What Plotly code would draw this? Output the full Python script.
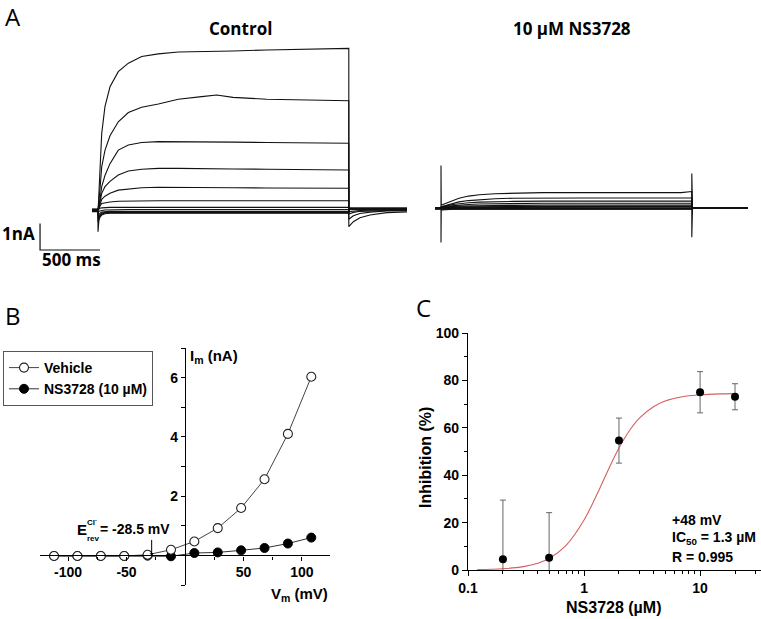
import plotly.graph_objects as go

W, H = 761, 619
def px(x): return x / W
def py(y): return 1 - y / H

# ---------------- Panel A : current traces (nA vs ms) ----------------
T_CTRL = [-50, 0, 0, 3, 8, 17, 31, 58, 100, 169, 253, 364, 503, 669, 864, 989, 1125,
          1406, 1750, 2090, 2090, 2128, 2183, 2267, 2406, 2575]
ctrl_p108 = [0.04, 0.04, 0.04, 0.2, 0.7, 1.63, 2.89, 3.9, 4.65, 5.22, 5.54, 5.79, 5.89, 5.96, 5.97, 6.0, 6.0,
             6.04, 6.06, 6.1, -0.63, -0.44, -0.29, -0.19, -0.1, -0.07]
ctrl_p88 = [0.03, 0.03, 0.03, 0.1, 0.3, 0.8, 1.63, 2.25, 2.8, 3.33, 3.68, 3.88, 4.0, 4.18, 4.28, 4.34, 4.25,
            4.18, 4.15, 4.12, -0.35, -0.22, -0.13, -0.08, -0.04, -0.03]
ctrl_p68 = [0.02, 0.02, 0.02, 0.05, 0.15, 0.4, 0.88, 1.3, 1.75, 2.26, 2.45, 2.55, 2.58, 2.58, 2.58, 2.57, 2.56,
            2.55, 2.53, 2.52, -0.15, -0.09, -0.05, -0.03, -0.02, -0.01]
ctrl_p48 = [0.01, 0.01, 0.01, 0.03, 0.1, 0.3, 0.63, 0.88, 1.08, 1.32, 1.47, 1.54, 1.57, 1.57, 1.57, 1.56, 1.55,
            1.54, 1.53, 1.51, -0.06, -0.04, -0.02, -0.01, 0.0, 0.0]
ctrl_p28 = [0.0, 0.0, 0.0, 0.02, 0.08, 0.2, 0.4, 0.52, 0.63, 0.75, 0.8, 0.84, 0.86, 0.86, 0.85, 0.85, 0.84,
            0.83, 0.83, 0.82, 0.02, 0.02, 0.01, 0.01, 0.01, 0.01]
ctrl_p8 = [-0.01, -0.01, -0.01, 0.02, 0.08, 0.15, 0.25, 0.28, 0.3, 0.33, 0.34, 0.35, 0.35, 0.35, 0.35, 0.35, 0.35,
           0.35, 0.35, 0.35, 0.03, 0.03, 0.02, 0.02, 0.02, 0.02]
ctrl_m12 = [-0.02, -0.02, -0.02, 0.02, 0.05, 0.07, 0.08, 0.09, 0.1, 0.1, 0.1, 0.1, 0.1, 0.1, 0.1, 0.1, 0.1,
            0.1, 0.1, 0.1, 0.04, 0.04, 0.03, 0.03, 0.03, 0.03]
ctrl_m32 = [-0.03, -0.03, -0.06, -0.08, -0.05, -0.03, -0.02, 0.0, 0.01, 0.02, 0.02, 0.02, 0.02, 0.02, 0.02, 0.02, 0.02,
            0.02, 0.02, 0.02, 0.05, 0.05, 0.04, 0.04, 0.04, 0.04]
ctrl_m52 = [-0.04, -0.04, -0.2, -0.25, -0.18, -0.12, -0.08, -0.06, -0.05, -0.05, -0.05, -0.05, -0.05, -0.05, -0.05, -0.05, -0.05,
            -0.05, -0.05, -0.05, 0.05, 0.05, 0.05, 0.05, 0.05, 0.05]
ctrl_m72 = [-0.05, -0.05, -0.3, -0.35, -0.26, -0.18, -0.12, -0.09, -0.08, -0.08, -0.08, -0.08, -0.08, -0.08, -0.08, -0.08, -0.08,
            -0.08, -0.08, -0.08, 0.06, 0.06, 0.06, 0.06, 0.06, 0.06]
ctrl_m92 = [-0.05, -0.05, -0.45, -0.42, -0.32, -0.22, -0.15, -0.11, -0.1, -0.1, -0.1, -0.1, -0.1, -0.1, -0.1, -0.1, -0.1,
            -0.1, -0.1, -0.1, 0.06, 0.06, 0.06, 0.06, 0.06, 0.06]
ctrl_m112 = [-0.06, -0.06, -0.82, -0.5, -0.38, -0.27, -0.19, -0.14, -0.12, -0.12, -0.12, -0.12, -0.12, -0.12, -0.12, -0.12, -0.12,
             -0.12, -0.12, -0.12, 0.07, 0.07, 0.07, 0.07, 0.07, 0.07]

T_NS = [-50, 0, 0, 2, 10, 30, 60, 100, 150, 230, 320, 450, 600, 850, 1200, 1600, 2000, 2090, 2090, 2096, 2558]
ns_p108 = [0.02, 0.02, 1.6, 0.1, 0.12, 0.16, 0.22, 0.3, 0.37, 0.45, 0.5, 0.54, 0.56, 0.58, 0.58, 0.57, 0.58, 0.62, -1.1, 0.0, 0.0]
ns_p88 = [0.02, 0.02, 0.02, 0.05, 0.06, 0.09, 0.13, 0.18, 0.23, 0.28, 0.32, 0.35, 0.37, 0.38, 0.38, 0.38, 0.38, 0.38, 0.0, 0.0, 0.0]
ns_p68 = [0.01, 0.01, 0.01, 0.04, 0.05, 0.07, 0.1, 0.13, 0.16, 0.2, 0.22, 0.24, 0.25, 0.26, 0.26, 0.26, 0.26, 0.26, 0.0, 0.0, 0.0]
ns_p48 = [0.0, 0.0, 0.0, 0.03, 0.04, 0.05, 0.07, 0.09, 0.11, 0.13, 0.15, 0.16, 0.17, 0.18, 0.18, 0.18, 0.18, 0.18, 0.0, 0.0, 0.0]
ns_p28 = [0.0, 0.0, 0.0, 0.02, 0.03, 0.04, 0.05, 0.06, 0.07, 0.08, 0.09, 0.1, 0.1, 0.11, 0.11, 0.11, 0.11, 0.11, 0.0, 0.0, 0.0]
ns_p8 = [-0.01, -0.01, -0.01, 0.02, 0.02, 0.03, 0.03, 0.04, 0.05, 0.05, 0.05, 0.06, 0.06, 0.06, 0.06, 0.06, 0.06, 0.06, 0.0, 0.0, 0.0]
ns_m12 = [-0.02, -0.02, -0.02, 0.02, 0.02, 0.02, 0.02, 0.02, 0.02, 0.02, 0.02, 0.02, 0.02, 0.02, 0.02, 0.02, 0.02, 0.02, 0.0, 0.0, 0.0]
ns_m32 = [-0.02, -0.02, -0.02, 0.0, 0.0, 0.0, 0.0, 0.0, 0.0, 0.0, 0.0, 0.0, 0.0, 0.0, 0.0, 0.0, 0.0, 0.0, 0.0, 0.0, 0.0]
ns_m52 = [-0.03, -0.03, -0.03, -0.02, -0.02, -0.02, -0.02, -0.02, -0.02, -0.02, -0.02, -0.02, -0.02, -0.02, -0.02, -0.02, -0.02, -0.02, 0.0, 0.0, 0.0]
ns_m72 = [-0.03, -0.03, -0.03, -0.03, -0.03, -0.03, -0.03, -0.03, -0.03, -0.03, -0.03, -0.03, -0.03, -0.03, -0.03, -0.03, -0.03, -0.03, 0.0, 0.0, 0.0]
ns_m92 = [-0.04, -0.04, -0.04, -0.05, -0.04, -0.04, -0.04, -0.04, -0.04, -0.04, -0.04, -0.04, -0.04, -0.04, -0.04, -0.04, -0.04, -0.04, 0.0, 0.0, 0.0]
ns_m112 = [-0.04, -0.04, -1.3, -0.1, -0.07, -0.06, -0.05, -0.05, -0.05, -0.05, -0.05, -0.05, -0.05, -0.05, -0.05, -0.05, -0.05, -0.05, 1.3, 0.0, 0.0]

SCALE_T_MS = 500
SCALE_I_NA = 1
SCALE_ORIGIN = (-483, -1.51)

# ---------------- Panel B : I-V relationship ----------------
V_STEPS = [-112, -92, -72, -52, -32, -12, 8, 28, 48, 68, 88, 108]
I_VEHICLE = [-0.02, -0.02, -0.02, -0.02, 0.02, 0.19, 0.47, 0.92, 1.6, 2.57, 4.1, 6.03]
I_NS3728 = [-0.02, -0.02, -0.02, -0.02, -0.01, -0.03, 0.08, 0.1, 0.17, 0.25, 0.4, 0.6]
E_REV = -28.5

# ---------------- Panel C : concentration-response ----------------
CONC = [0.2, 0.5, 2, 10, 20]
INHIB = [4.5, 5.2, 54.6, 75.0, 73.1]
INHIB_SEM = [25, 19, 9.5, 8.7, 5.5]
FIT_CONC = [0.12, 0.2, 0.3, 0.4, 0.5, 0.7, 1.0, 1.3, 1.6, 2.0, 2.5, 3.0, 4.0, 5.0, 7.0, 10, 15, 20]
FIT_INHIB = [0.15, 0.52, 1.42, 2.86, 4.86, 10.4, 21.1, 32.2, 41.8, 51.5, 59.3, 64.1, 69.0, 71.3, 73.1, 73.9, 74.3, 74.4]

ARIAL = "Liberation Sans"
MYRIAD = "Open Sans"

fig = go.Figure()

ctrl_set = [ctrl_m112, ctrl_m92, ctrl_m72, ctrl_m52, ctrl_m32, ctrl_m12,
            ctrl_p8, ctrl_p28, ctrl_p48, ctrl_p68, ctrl_p88, ctrl_p108]
for tr in ctrl_set:
    fig.add_trace(go.Scatter(x=T_CTRL, y=tr, mode="lines", xaxis="x", yaxis="y",
                             line=dict(color="#111", width=1.1), showlegend=False, hoverinfo="skip"))
ns_set = [ns_m112, ns_m92, ns_m72, ns_m52, ns_m32, ns_m12,
          ns_p8, ns_p28, ns_p48, ns_p68, ns_p88, ns_p108]
for tr in ns_set:
    fig.add_trace(go.Scatter(x=T_NS, y=tr, mode="lines", xaxis="x2", yaxis="y2",
                             line=dict(color="#111", width=1.1), showlegend=False, hoverinfo="skip"))

# scale bar
t0, i0 = SCALE_ORIGIN
fig.add_trace(go.Scatter(x=[t0, t0, t0 + SCALE_T_MS], y=[i0 + SCALE_I_NA, i0, i0], mode="lines",
                         xaxis="x", yaxis="y", line=dict(color="#111", width=1.2),
                         showlegend=False, hoverinfo="skip"))

# Panel B
fig.add_trace(go.Scatter(x=V_STEPS, y=I_NS3728, mode="lines+markers", name="NS3728 (10 µM)",
                         xaxis="x3", yaxis="y3", legendrank=2,
                         line=dict(color="#333", width=1),
                         marker=dict(size=9, color="black", line=dict(color="black", width=1))))
fig.add_trace(go.Scatter(x=V_STEPS, y=I_VEHICLE, mode="lines+markers", name="Vehicle",
                         xaxis="x3", yaxis="y3", legendrank=1,
                         line=dict(color="#444", width=1),
                         marker=dict(size=9, color="white", line=dict(color="#222", width=1.1))))

# Panel C
fig.add_trace(go.Scatter(x=FIT_CONC, y=FIT_INHIB, mode="lines", line_shape="spline",
                         xaxis="x4", yaxis="y4", line=dict(color="#d65f5f", width=1.1),
                         showlegend=False, hoverinfo="skip"))
fig.add_trace(go.Scatter(x=CONC, y=INHIB, mode="markers", xaxis="x4", yaxis="y4",
                         marker=dict(size=8, color="black"),
                         error_y=dict(type="data", array=INHIB_SEM, color="#666", thickness=1, width=3),
                         showlegend=False))

axis_off = dict(visible=False, showgrid=False, zeroline=False, fixedrange=True, automargin=False)
x_minor_C = [0.2, 0.3, 0.4, 0.5, 0.6, 0.7, 0.8, 0.9, 2, 3, 4, 5, 6, 7, 8, 9, 20, 30]
tickf = dict(family=ARIAL, size=14, color="black", weight="bold")

fig.update_layout(
    template="none",
    width=W, height=H, autosize=False, margin=dict(l=0, r=0, t=0, b=0, pad=0),
    paper_bgcolor="white", plot_bgcolor="rgba(0,0,0,0)",
    xaxis=dict(axis_off, domain=[0, px(407)], range=[-816.7, 2575], anchor="y"),
    yaxis=dict(axis_off, domain=[py(255), py(40)], range=[-1.698, 6.415], anchor="x"),
    xaxis2=dict(axis_off, domain=[px(435), px(748)], range=[-50, 2558.3], anchor="y2"),
    yaxis2=dict(axis_off, domain=[py(250), py(40)], range=[-1.585, 6.34], anchor="x2"),
    xaxis3=dict(domain=[px(40), px(330)], range=[-124, 124], anchor="free", position=py(555.4),
                automargin=False,
                showline=True, linecolor="black", linewidth=1.2, showgrid=False, zeroline=False,
                ticks="outside", ticklen=4, tickcolor="black", tickwidth=1.2,
                tickvals=[-100, -50, 50, 100], ticktext=["-100", "-50", "50", "100"],
                minor=dict(tickvals=[-125, -75, -25, 25, 75, 125], ticks="outside", ticklen=3,
                           tickcolor="black", showgrid=False),
                tickfont=tickf),
    yaxis3=dict(domain=[py(585), py(348)], range=[-1, 7], anchor="free", position=px(185),
                automargin=False,
                showline=True, linecolor="black", linewidth=1.2, showgrid=False, zeroline=False,
                ticks="outside", ticklen=4, tickcolor="black", tickwidth=1.2,
                tickvals=[-1, 2, 4, 6, 7], ticktext=["", "2", "4", "6", ""],
                minor=dict(tickvals=[1, 3, 5], ticks="outside", ticklen=4, tickcolor="black", showgrid=False),
                tickfont=tickf),
    xaxis4=dict(type="log", domain=[px(468), 1.0], range=[-1, 1.525], anchor="y4",
                automargin=False,
                showline=True, linecolor="black", linewidth=1.2, showgrid=False, zeroline=False,
                ticks="outside", ticklen=5, tickcolor="black", tickwidth=1.2,
                tickvals=[0.1, 1, 10], ticktext=["0.1", "1", "10"],
                minor=dict(tickvals=x_minor_C, ticks="outside", ticklen=3, tickcolor="black", showgrid=False),
                tickfont=tickf),
    yaxis4=dict(domain=[py(570), py(333)], range=[0, 100], anchor="x4",
                automargin=False,
                showline=True, linecolor="black", linewidth=1.2, showgrid=False, zeroline=False,
                ticks="outside", ticklen=5, tickcolor="black", tickwidth=1.2,
                tickvals=[0, 20, 40, 60, 80, 100],
                minor=dict(tickvals=[10, 30, 50, 70, 90], ticks="outside", ticklen=3, tickcolor="black",
                           showgrid=False),
                tickfont=tickf),
    legend=dict(x=px(3), y=py(351), xanchor="left", yanchor="top",
                bordercolor="#555", borderwidth=1, bgcolor="white",
                font=dict(family=ARIAL, size=14, color="black", weight="bold"),
                itemwidth=30, tracegroupgap=0),
    showlegend=True,
)

def ann(text, x, y, size, family=ARIAL, weight="bold", xanchor="left", yanchor="middle", **kw):
    fig.add_annotation(text=text, x=px(x), y=py(y), xref="paper", yref="paper",
                       xanchor=xanchor, yanchor=yanchor, showarrow=False,
                       font=dict(family=family, size=size, color="black", weight=weight), **kw)

# panel letters
ann("A", 3, 16, 24, family=MYRIAD, weight="normal")
ann("B", 3, 315, 24, family=MYRIAD, weight="normal")
ann("C", 414, 307, 24, family=MYRIAD, weight="normal")
# panel A titles and scale bar labels
ann("Control", 240.5, 28, 17, family=MYRIAD, xanchor="center")
ann("10 µM NS3728", 572, 28, 17, family=MYRIAD, xanchor="center")
ann("1nA", 37, 233, 17, family=MYRIAD, xanchor="right")
ann("500 ms", 71, 259, 17, family=MYRIAD, xanchor="center")
# panel B labels
ann("I<sub>m</sub> (nA)", 188, 356, 15)
ann("V<sub>m</sub> (mV)", 269, 594, 15)
ann("E", 75, 529, 15)
ann("Cl<sup>-</sup>", 85, 522, 8)
ann("rev", 85, 538, 8)
ann("= -28.5 mV", 98, 529, 14)
fig.add_annotation(x=E_REV, y=0, xref="x3", yref="y3", ax=0, ay=-17, text="", showarrow=True,
                   arrowhead=1, arrowsize=0.7, arrowwidth=1, arrowcolor="black", standoff=0)
# panel C labels
ann("Inhibition (%)", 425, 458, 16, xanchor="center", textangle=-90)
ann("NS3728 (µM)", 613, 607, 16, xanchor="center")
ann("+48 mV", 670, 520, 14)
ann("IC<sub>50</sub> = 1.3 µM", 670, 538, 14)
ann("R = 0.995", 670, 557, 14)

fig.write_html("out.html", config={"displayModeBar": False},
               post_script="document.body.style.margin='0';")
